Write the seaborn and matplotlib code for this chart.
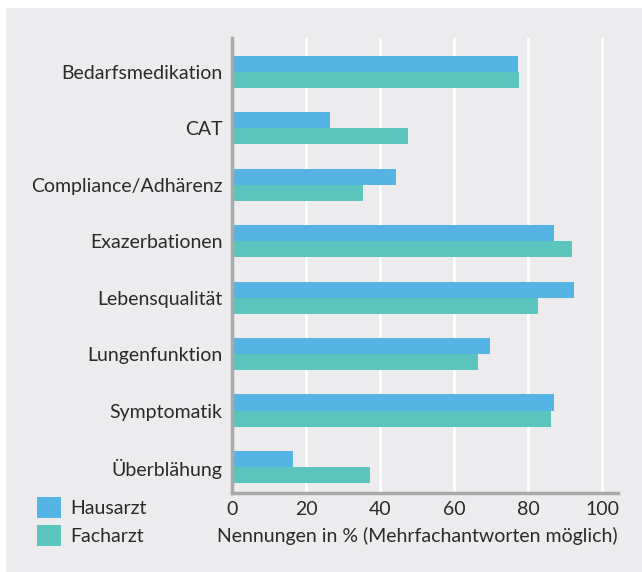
import matplotlib
matplotlib.use("Agg")
import matplotlib.pyplot as plt
import seaborn as sns
import pandas as pd
from matplotlib.patches import Rectangle, Patch

categories = ["Bedarfsmedikation", "CAT", "Compliance/Adhärenz", "Exazerbationen",
              "Lebensqualität", "Lungenfunktion", "Symptomatik", "Überblähung"]
hausarzt = [77.2, 26.5, 44.3, 87.0, 92.4, 69.7, 87.0, 16.5]
facharzt = [77.5, 47.5, 35.4, 91.8, 82.6, 66.4, 86.1, 37.3]
series = ["Hausarzt", "Facharzt"]
xticks = [0, 20, 40, 60, 80, 100]
xlabel = "Nennungen in % (Mehrfachantworten möglich)"

df = pd.DataFrame({
    "Kategorie": categories * 2,
    "Wert": hausarzt + facharzt,
    "Gruppe": [series[0]] * len(categories) + [series[1]] * len(categories),
})

sns.set_theme(style="white")
plt.rcParams["font.family"] = ["Lato", "DejaVu Sans"]

bg = "#ECECEE"
txt = "#2a2a2a"
fs = 14
colors = {"Hausarzt": "#56B4E4", "Facharzt": "#5BC4BC"}

fig = plt.figure(figsize=(6.42, 5.72), dpi=100, facecolor="white")
fig.patches.append(Rectangle((6 / 642, 0), 1, 1 - 8 / 572, transform=fig.transFigure,
                             facecolor=bg, edgecolor="none", zorder=-10))
ax = fig.add_axes([232 / 642, 1 - 493 / 572, (618 - 232) / 642, (493 - 38) / 572])
ax.set_facecolor(bg)

sns.barplot(data=df, y="Kategorie", x="Wert", hue="Gruppe", order=categories,
            hue_order=series, palette=colors, width=0.57, orient="h",
            saturation=1, legend=False, linewidth=0, edgecolor="none", ax=ax)

ax.set_xlim(0, 104.2)
ax.set_ylim(7.46, -0.6)
ax.set_xticks(xticks)
ax.set_xticklabels([str(t) for t in xticks], fontsize=fs, color=txt)
ax.tick_params(axis="both", length=0, pad=6)
ax.set_yticks(range(len(categories)))
ax.set_yticklabels(categories, fontsize=fs, color=txt)
ax.tick_params(axis="y", pad=7)
ax.set_ylabel("")
ax.set_xlabel(xlabel, fontsize=fs, color=txt, loc="right", labelpad=6)

for t in xticks[1:]:
    ax.axvline(t, color="white", lw=2, zorder=0.5)
ax.set_axisbelow(True)

for s in ["top", "right"]:
    ax.spines[s].set_visible(False)
for s in ["left", "bottom"]:
    ax.spines[s].set_color("#AAAAAA")
    ax.spines[s].set_linewidth(2.5)

handles = [Patch(facecolor=colors[s], edgecolor="none") for s in series]
fig.legend(handles, series, loc="upper left", bbox_to_anchor=(37 / 642, 1 - 497 / 572),
           bbox_transform=fig.transFigure, frameon=False, fontsize=fs,
           handlelength=1.25, handleheight=1.3, handletextpad=0.45, labelspacing=0.35,
           borderpad=0, borderaxespad=0, labelcolor=txt)

fig.savefig("out.png", dpi=100, facecolor="white")
